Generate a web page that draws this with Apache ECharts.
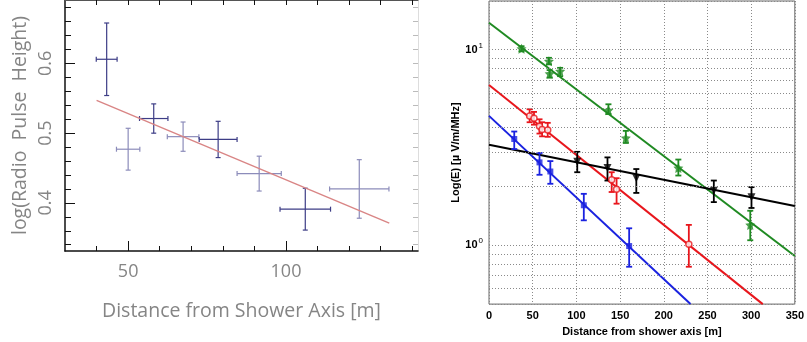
<!DOCTYPE html>
<html>
<head>
<meta charset="utf-8">
<script src="https://cdn.jsdelivr.net/npm/echarts@6/dist/echarts.min.js"></script>
<style>
  html, body { margin: 0; padding: 0; background: #fff; }
  #chart { width: 807px; height: 342px; }
</style>
</head>
<body>
<div id="chart"></div>
<script>
// Left panel: radio pulse height vs distance (x, y, xErr, yErr)
const darkPoints = [
  [43.2, 0.606, 3.3, 0.052],
  [58.1, 0.521, 4.5, 0.021],
  [78.5, 0.491, 6.0, 0.026],
  [106.1, 0.391, 8.0, 0.030],
]
const lightPoints = [
  [50.0, 0.477, 3.7, 0.030],
  [67.4, 0.495, 5.0, 0.021],
  [91.5, 0.442, 7.0, 0.025],
  [123.2, 0.420, 9.4, 0.042],
]
const pulseFit = [[40, 0.547], [132.7, 0.371]]

const leftMajorX = [50, 100]
const leftMinorX = [40, 60, 70, 80, 90, 110, 120, 130, 140]
const leftMajorY = [0.4, 0.5, 0.6]
const leftMinorY = [0.34, 0.36, 0.38, 0.42, 0.44, 0.46, 0.48, 0.52, 0.54, 0.56, 0.58, 0.62, 0.64, 0.66, 0.68]

// Right panel: field strength vs distance (x, y, yLow, yHigh)
const greenPoints = [
  [37.2, 10.1, 9.8, 10.4],
  [68.6, 8.72, 8.4, 9.07],
  [69.4, 7.52, 7.18, 7.85],
  [81.4, 7.76, 7.31, 8.06],
  [136.7, 4.9, 4.68, 5.25],
  [156.6, 3.53, 3.33, 3.84],
  [216.7, 2.48, 2.27, 2.74],
  [299.0, 1.27, 1.06, 1.50],
]
const redPoints = [
  [46.5, 4.58, 4.25, 4.95],
  [51.5, 4.45, 4.13, 4.80],
  [57.8, 4.05, 3.72, 4.40],
  [60.8, 3.90, 3.60, 4.25],
  [67.2, 3.88, 3.58, 4.22],
  [140.4, 2.16, 1.87, 2.36],
  [146.0, 1.93, 1.63, 2.20],
  [228.7, 1.01, 0.776, 1.27],
]
const bluePoints = [
  [28.9, 3.49, 3.10, 3.81],
  [57.8, 2.65, 2.29, 2.96],
  [70.2, 2.38, 2.06, 2.69],
  [108.5, 1.60, 1.34, 1.83],
  [160.4, 0.99, 0.776, 1.22],
]
const blackPoints = [
  [101.0, 2.67, 2.36, 3.00],
  [135.6, 2.48, 2.14, 2.81],
  [168.6, 2.20, 1.85, 2.45],
  [257.3, 1.90, 1.66, 2.14],
  [300.4, 1.76, 1.55, 1.98],
]
const greenFit = [[0, 13.7], [350, 0.88]]
const redFit = [[0, 6.58], [313.3, 0.5]]
const blueFit = [[0, 4.58], [230.6, 0.5]]
const blackFit = [[0, 3.26], [350, 1.586]]

const logMinorGrid = [0.6, 0.7, 0.8, 0.9, 2, 3, 4, 5, 6, 7, 8, 9]

const GREEN = "#1f8a22"
const RED = "#e8161c"
const BLUE = "#1a22e0"
const BLACK = "#000"
const STAR = "path://M0,-10 L2.9,-4 9.5,-3.1 4.7,1.5 5.9,8.1 0,5 -5.9,8.1 -4.7,1.5 -9.5,-3.1 -2.9,-4 Z"

const thinFont = {fontFamily: "Open Sans", fontWeight: "normal", color: "#858585", fontSize: 18}
const boldFont = {fontFamily: "Liberation Sans", fontWeight: "bold", color: "#000", fontSize: 11}
const nameFont = Object.assign({}, thinFont, {fontSize: 19.5, width: 400, overflow: "none"})

function crossItem(params, api) {
  const x = api.value(0), y = api.value(1), dx = api.value(2), dy = api.value(3)
  const c = api.coord([x, y])
  const l = api.coord([x - dx, y]), r = api.coord([x + dx, y])
  const t = api.coord([x, y + dy]), b = api.coord([x, y - dy])
  const cap = 2.5
  const style = {stroke: api.visual("color"), lineWidth: 1.2}
  return {
    type: "group",
    children: [
      {type: "line", shape: {x1: l[0], y1: c[1], x2: r[0], y2: c[1]}, style},
      {type: "line", shape: {x1: c[0], y1: t[1], x2: c[0], y2: b[1]}, style},
      {type: "line", shape: {x1: l[0], y1: c[1] - cap, x2: l[0], y2: c[1] + cap}, style},
      {type: "line", shape: {x1: r[0], y1: c[1] - cap, x2: r[0], y2: c[1] + cap}, style},
      {type: "line", shape: {x1: c[0] - cap, y1: t[1], x2: c[0] + cap, y2: t[1]}, style},
      {type: "line", shape: {x1: c[0] - cap, y1: b[1], x2: c[0] + cap, y2: b[1]}, style},
    ],
  }
}

function errorBarItem(params, api) {
  const x = api.value(0)
  const lo = api.coord([x, api.value(2)])
  const hi = api.coord([x, api.value(3)])
  const cap = 3
  const style = {stroke: api.visual("color"), lineWidth: 1.8}
  return {
    type: "group",
    children: [
      {type: "line", shape: {x1: lo[0], y1: lo[1], x2: hi[0], y2: hi[1]}, style},
      {type: "line", shape: {x1: lo[0] - cap, y1: lo[1], x2: lo[0] + cap, y2: lo[1]}, style},
      {type: "line", shape: {x1: hi[0] - cap, y1: hi[1], x2: hi[0] + cap, y2: hi[1]}, style},
    ],
  }
}

function groupSeries(points, fit, color, marker) {
  return [
    {
      type: "line", xAxisIndex: 3, yAxisIndex: 3, data: fit, symbol: "none", z: 3,
      lineStyle: {color, width: 2}, silent: true,
    },
    {
      type: "custom", xAxisIndex: 3, yAxisIndex: 3, renderItem: errorBarItem, z: 4,
      itemStyle: {color}, data: points, silent: true,
    },
    Object.assign({
      type: "scatter", xAxisIndex: 3, yAxisIndex: 3, z: 5, silent: true,
      data: points.map(p => [p[0], p[1]]),
    }, marker),
  ]
}

const dotted = {color: "#8a8a8a", width: 1, type: [1, 2]}

const option = {
  animation: false,
  backgroundColor: "#fff",
  grid: [
    {left: 65, top: 0, right: 389, bottom: 91},
    {left: 489, top: 1, right: 8, bottom: 37, show: true, borderColor: "#666", borderWidth: 1},
  ],
  xAxis: [
    {
      gridIndex: 0, type: "value", min: 30, max: 141.8, position: "bottom",
      name: "Distance from Shower Axis [m]", nameLocation: "middle", nameGap: 50,
      nameTextStyle: nameFont,
      axisLine: {lineStyle: {color: "#111", width: 1.5}},
      axisTick: {inside: true, length: 10, customValues: leftMajorX, lineStyle: {color: "#111"}},
      axisLabel: Object.assign({customValues: leftMajorX, margin: 12}, thinFont),
      splitLine: {show: false},
    },
    {
      gridIndex: 0, type: "value", min: 30, max: 141.8, position: "bottom",
      axisLine: {show: false},
      axisTick: {inside: true, length: 5, customValues: leftMinorX, lineStyle: {color: "#111"}},
      axisLabel: {show: false}, splitLine: {show: false},
    },
    {
      gridIndex: 0, type: "value", min: 30, max: 141.8, position: "top",
      axisLine: {lineStyle: {color: "#555"}},
      axisTick: {inside: true, length: 5, customValues: leftMajorX.concat(leftMinorX), lineStyle: {color: "#111"}},
      axisLabel: {show: false}, splitLine: {show: false},
    },
    {
      gridIndex: 1, type: "value", min: 0, max: 350, interval: 50,
      name: "Distance from shower axis [m]", nameLocation: "middle", nameGap: 18,
      nameTextStyle: boldFont,
      axisLine: {show: false}, axisTick: {show: false},
      axisLabel: Object.assign({margin: 6}, boldFont),
      splitLine: {lineStyle: dotted},
    },
  ],
  yAxis: [
    {
      gridIndex: 0, type: "value", min: 0.331, max: 0.691, position: "left",
      name: "log(Radio  Pulse  Height)", nameLocation: "middle", nameGap: 35, nameRotate: 90,
      nameTextStyle: nameFont,
      axisLine: {lineStyle: {color: "#111", width: 1.5}},
      axisTick: {inside: true, length: 10, customValues: leftMajorY, lineStyle: {color: "#111"}},
      axisLabel: Object.assign({customValues: leftMajorY, rotate: 90, margin: 10,
        formatter: v => v.toFixed(1)}, thinFont),
      splitLine: {show: false},
    },
    {
      gridIndex: 0, type: "value", min: 0.331, max: 0.691, position: "left",
      axisLine: {show: false},
      axisTick: {inside: true, length: 6, customValues: leftMinorY, lineStyle: {color: "#111"}},
      axisLabel: {show: false}, splitLine: {show: false},
    },
    {
      gridIndex: 0, type: "value", min: 0.331, max: 0.691, position: "right",
      axisLine: {show: true, lineStyle: {color: "#ddd"}},
      axisTick: {inside: true, length: 5, customValues: leftMajorY.concat(leftMinorY), lineStyle: {color: "#bbb"}},
      axisLabel: {show: false}, splitLine: {show: false},
    },
    {
      gridIndex: 1, type: "log", logBase: 10, min: 0.5, max: 17.7,
      name: "Log(E) [\u00b5 V/m/MHz]", nameLocation: "middle", nameGap: 24, nameRotate: 90,
      nameTextStyle: boldFont,
      axisLine: {show: false}, axisTick: {show: false},
      axisLabel: {
        margin: 6,
        formatter(v) {
          const p = Math.log10(v)
          if (Math.abs(p - Math.round(p)) > 1e-6) return ""
          return `{b|10}{s|${Math.round(p)}}`
        },
        rich: {
          b: {fontFamily: "Liberation Sans", fontWeight: "bold", fontSize: 11, color: "#000"},
          s: {fontFamily: "Liberation Sans", fontSize: 8, color: "#000", padding: [0, 0, 8, 1]},
        },
      },
      splitLine: {lineStyle: dotted},
    },
  ],
  series: [
    {
      type: "custom", xAxisIndex: 0, yAxisIndex: 0, renderItem: crossItem, silent: true,
      itemStyle: {color: "#8c8cba"}, data: lightPoints, z: 2,
    },
    {
      type: "custom", xAxisIndex: 0, yAxisIndex: 0, renderItem: crossItem, silent: true,
      itemStyle: {color: "#3d3d86"}, data: darkPoints, z: 3,
    },
    {
      type: "line", xAxisIndex: 0, yAxisIndex: 0, data: pulseFit, symbol: "none", silent: true,
      lineStyle: {color: "#d98585", width: 1.4}, z: 4,
    },
    {
      type: "scatter", xAxisIndex: 3, yAxisIndex: 3, data: [], z: 1, silent: true,
      markLine: {
        silent: true, symbol: "none", label: {show: false}, animation: false,
        lineStyle: dotted,
        data: logMinorGrid.map(v => ({yAxis: v})),
      },
    },
    ...groupSeries(greenPoints, greenFit, GREEN, {symbol: STAR, symbolSize: 10, itemStyle: {color: GREEN}}),
    ...groupSeries(redPoints, redFit, RED, {symbol: "circle", symbolSize: 6,
      itemStyle: {color: "#fff", borderColor: RED, borderWidth: 1.5}}),
    ...groupSeries(bluePoints, blueFit, BLUE, {symbol: "rect", symbolSize: 6, itemStyle: {color: BLUE}}),
    ...groupSeries(blackPoints, blackFit, BLACK, {symbol: "triangle", symbolRotate: 180, symbolSize: 8,
      itemStyle: {color: BLACK}}),
  ],
}

const chart = echarts.init(document.getElementById("chart"), null, {renderer: "canvas"})
chart.setOption(option)
</script>
</body>
</html>
